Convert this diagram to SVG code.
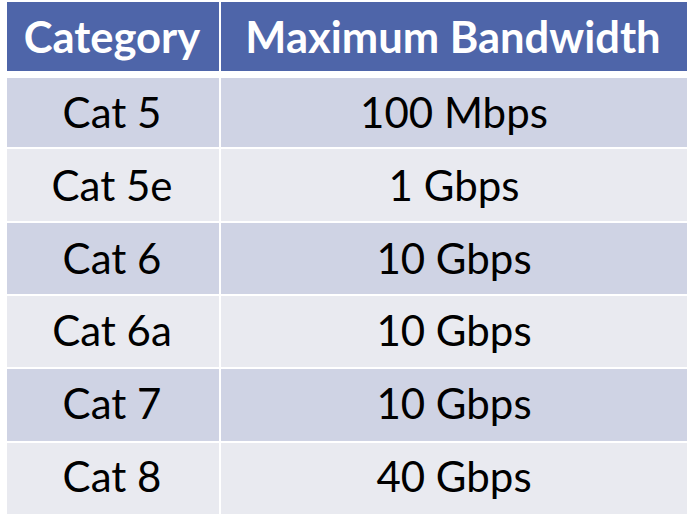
<svg xmlns="http://www.w3.org/2000/svg" width="692" height="520" viewBox="0 0 692 520">
<style>
.hd{fill:#4E65A9}
.odd{fill:#CFD3E4}
.even{fill:#E9EAF0}
.ht{font-family:Lato,"Open Sans",sans-serif;font-weight:bold;font-size:43.5px;fill:#fff;text-anchor:middle}
.t{font-family:Lato,"Open Sans",sans-serif;font-size:42px;fill:#000;text-anchor:middle}
</style>
<rect width="692" height="520" fill="#fff"/>
<g id="header">
<rect class="hd" x="7" y="2" width="212" height="69"/>
<rect class="hd" x="221" y="2" width="466" height="69"/>
<text class="ht" x="112" y="53">Category</text>
<text class="ht" x="453" y="53">Maximum Bandwidth</text>
</g>
<g id="row1">
<rect class="odd" x="7" y="78" width="212" height="69"/>
<rect class="odd" x="221" y="78" width="466" height="69"/>
<text class="t" x="112" y="128">Cat 5</text>
<text class="t" x="454" y="128">100 Mbps</text>
</g>
<g id="row2">
<rect class="even" x="7" y="149" width="212" height="72"/>
<rect class="even" x="221" y="149" width="466" height="72"/>
<text class="t" x="112" y="201">Cat 5e</text>
<text class="t" x="454" y="201">1 Gbps</text>
</g>
<g id="row3">
<rect class="odd" x="7" y="223" width="212" height="71"/>
<rect class="odd" x="221" y="223" width="466" height="71"/>
<text class="t" x="112" y="274">Cat 6</text>
<text class="t" x="454" y="274">10 Gbps</text>
</g>
<g id="row4">
<rect class="even" x="7" y="296" width="212" height="71"/>
<rect class="even" x="221" y="296" width="466" height="71"/>
<text class="t" x="112" y="346">Cat 6a</text>
<text class="t" x="454" y="346">10 Gbps</text>
</g>
<g id="row5">
<rect class="odd" x="7" y="369" width="212" height="72"/>
<rect class="odd" x="221" y="369" width="466" height="72"/>
<text class="t" x="112" y="419">Cat 7</text>
<text class="t" x="454" y="419">10 Gbps</text>
</g>
<g id="row6">
<rect class="even" x="7" y="443" width="212" height="71"/>
<rect class="even" x="221" y="443" width="466" height="71"/>
<text class="t" x="112" y="492">Cat 8</text>
<text class="t" x="454" y="492">40 Gbps</text>
</g>
</svg>
